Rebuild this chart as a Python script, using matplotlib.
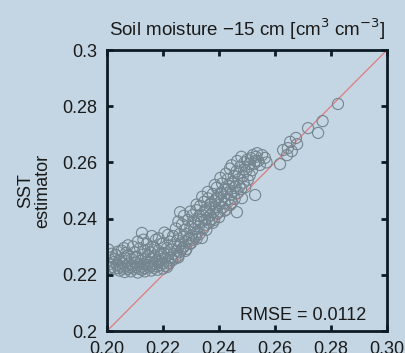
import numpy as np
import matplotlib
matplotlib.use("Agg")
import matplotlib.pyplot as plt

plt.rcParams["font.family"] = ["Liberation Sans", "DejaVu Sans"]

sm_obs = [
    0.2005, 0.2008, 0.2012, 0.2015, 0.2020, 0.2024, 0.2028, 0.2032, 0.2036, 0.2040,
    0.2044, 0.2048, 0.2052, 0.2055, 0.2058, 0.2062, 0.2066, 0.2070, 0.2073, 0.2077,
    0.2080, 0.2084, 0.2088, 0.2091, 0.2095, 0.2098, 0.2102, 0.2105, 0.2108, 0.2112,
    0.2115, 0.2118, 0.2121, 0.2124, 0.2128, 0.2131, 0.2134, 0.2138, 0.2142, 0.2145,
    0.2148, 0.2150, 0.2125,
    0.2018, 0.2038, 0.2060, 0.2075, 0.2093, 0.2110, 0.2130, 0.2147, 0.2160, 0.2185,
    0.2200, 0.2218, 0.2028, 0.2068, 0.2100, 0.2135, 0.2170, 0.2192,
    0.2063, 0.2085, 0.2110, 0.2135, 0.2158, 0.2180, 0.2200, 0.2215, 0.2045, 0.2125,
    0.2152, 0.2155, 0.2158, 0.2161, 0.2164, 0.2167, 0.2170, 0.2172, 0.2175, 0.2178,
    0.2180, 0.2183, 0.2186, 0.2189, 0.2191, 0.2194, 0.2197, 0.2200, 0.2203, 0.2205,
    0.2208, 0.2211, 0.2214, 0.2216, 0.2219, 0.2222, 0.2225, 0.2228, 0.2230, 0.2233,
    0.2236, 0.2238, 0.2241, 0.2244, 0.2246, 0.2249, 0.2252, 0.2254, 0.2257, 0.2260,
    0.2262, 0.2265, 0.2268, 0.2270, 0.2273, 0.2276, 0.2278, 0.2281, 0.2284, 0.2286,
    0.2289, 0.2292, 0.2295, 0.2298, 0.2261,
    0.2255, 0.2280, 0.2300, 0.2320, 0.2355, 0.2378, 0.2400, 0.2420, 0.2440,
    0.2255, 0.2275, 0.2298, 0.2320, 0.2340, 0.2360, 0.2385, 0.2405, 0.2425, 0.2445,
    0.2465, 0.2480,
    0.2310, 0.2330, 0.2350, 0.2370, 0.2390, 0.2410, 0.2430, 0.2450, 0.2470, 0.2490,
    0.2510, 0.2530,
    0.2302, 0.2305, 0.2308, 0.2311, 0.2314, 0.2316, 0.2319, 0.2322, 0.2325, 0.2328,
    0.2330, 0.2333, 0.2336, 0.2339, 0.2342, 0.2344, 0.2347, 0.2350, 0.2353, 0.2356,
    0.2358, 0.2361, 0.2364, 0.2367, 0.2370, 0.2372, 0.2375, 0.2378, 0.2380, 0.2383,
    0.2386, 0.2389, 0.2392, 0.2394, 0.2397, 0.2400, 0.2403, 0.2406, 0.2408, 0.2411,
    0.2414, 0.2417, 0.2420, 0.2422, 0.2425, 0.2428, 0.2431, 0.2433, 0.2436, 0.2439,
    0.2442, 0.2445, 0.2448,
    0.2450, 0.2453, 0.2456, 0.2459, 0.2462, 0.2464, 0.2467, 0.2470, 0.2473, 0.2476,
    0.2479, 0.2482, 0.2485, 0.2488, 0.2491, 0.2494, 0.2497, 0.2500, 0.2503, 0.2506,
    0.2510, 0.2514, 0.2518, 0.2521, 0.2525, 0.2529, 0.2532, 0.2536, 0.2540, 0.2546,
    0.2554, 0.2564, 0.2570,
    0.2618, 0.2629, 0.2643, 0.2646, 0.2654, 0.2660, 0.2675, 0.2679, 0.2718, 0.2754,
    0.2770, 0.2825,
]
sst_est = [
    0.2290, 0.2238, 0.2225, 0.2262, 0.2228, 0.2245, 0.2222, 0.2270, 0.2236, 0.2224,
    0.2252, 0.2230, 0.2286, 0.2241, 0.2222, 0.2262, 0.2232, 0.2248, 0.2221, 0.2270,
    0.2238, 0.2226, 0.2256, 0.2233, 0.2222, 0.2280, 0.2244, 0.2228, 0.2263, 0.2236,
    0.2221, 0.2295, 0.2250, 0.2230, 0.2272, 0.2240, 0.2224, 0.2258, 0.2310, 0.2235,
    0.2266, 0.2226, 0.2349,
    0.2275, 0.2282, 0.2295, 0.2305, 0.2300, 0.2318, 0.2325, 0.2290, 0.2338, 0.2330,
    0.2312, 0.2342, 0.2255, 0.2278, 0.2262, 0.2285, 0.2295, 0.2275,
    0.2210, 0.2212, 0.2208, 0.2212, 0.2215, 0.2218, 0.2222, 0.2228, 0.2215, 0.2218,
    0.2245, 0.2280, 0.2232, 0.2258, 0.2300, 0.2225, 0.2268, 0.2240, 0.2325, 0.2252,
    0.2230, 0.2285, 0.2246, 0.2265, 0.2235, 0.2310, 0.2256, 0.2240, 0.2278, 0.2350,
    0.2262, 0.2232, 0.2295, 0.2250, 0.2272, 0.2240, 0.2318, 0.2260, 0.2290, 0.2252,
    0.2338, 0.2275, 0.2305, 0.2258, 0.2365, 0.2285, 0.2322, 0.2268, 0.2300, 0.2345,
    0.2282, 0.2312, 0.2380, 0.2295, 0.2335, 0.2302, 0.2360, 0.2318, 0.2292, 0.2345,
    0.2395, 0.2328, 0.2310, 0.2370, 0.2423,
    0.2262, 0.2285, 0.2312, 0.2328, 0.2360, 0.2385, 0.2405, 0.2428, 0.2448,
    0.2390, 0.2410, 0.2425, 0.2450, 0.2478, 0.2495, 0.2520, 0.2545, 0.2560, 0.2590,
    0.2605, 0.2620,
    0.2390, 0.2410, 0.2430, 0.2450, 0.2470, 0.2490, 0.2505, 0.2525, 0.2560, 0.2575,
    0.2595, 0.2605,
    0.2340, 0.2412, 0.2325, 0.2362, 0.2385, 0.2335, 0.2430, 0.2352, 0.2398, 0.2372,
    0.2345, 0.2445, 0.2388, 0.2331, 0.2412, 0.2365, 0.2460, 0.2395, 0.2378, 0.2428,
    0.2402, 0.2472, 0.2385, 0.2440, 0.2412, 0.2455, 0.2398, 0.2488, 0.2425, 0.2395,
    0.2462, 0.2440, 0.2510, 0.2418, 0.2475, 0.2448, 0.2425, 0.2492, 0.2462, 0.2525,
    0.2440, 0.2478, 0.2455, 0.2505, 0.2432, 0.2490, 0.2540, 0.2468, 0.2515, 0.2578,
    0.2485, 0.2455, 0.2530,
    0.2498, 0.2552, 0.2470, 0.2515, 0.2568, 0.2423, 0.2492, 0.2540, 0.2515, 0.2585,
    0.2505, 0.2473, 0.2552, 0.2528, 0.2600, 0.2512, 0.2570, 0.2609, 0.2538, 0.2585,
    0.2555, 0.2615, 0.2572, 0.2626, 0.2595, 0.2484, 0.2620, 0.2633, 0.2605, 0.2591,
    0.2626, 0.2616, 0.2600,
    0.2594, 0.2644, 0.2626, 0.2651, 0.2673, 0.2640, 0.2687, 0.2665, 0.2722, 0.2705,
    0.2747, 0.2808,
]

xticks = [0.20, 0.22, 0.24, 0.26, 0.28, 0.30]
xticklabels = ["0.20", "0.22", "0.24", "0.26", "0.28", "0.30"]
yticks = [0.20, 0.22, 0.24, 0.26, 0.28, 0.30]
yticklabels = ["0.2", "0.22", "0.24", "0.26", "0.28", "0.3"]
rmse_text = "RMSE = 0.0112"

bg = "#c4d6e3"
txt = "#1a1a1a"
fig = plt.figure(figsize=(4.06, 3.53), dpi=100, facecolor=bg)
ax = fig.add_axes([0.2635, 0.0623, 0.6897, 0.796], facecolor=bg)

ax.plot([0.2, 0.3], [0.2, 0.3], color="#e07a7e", lw=0.9, zorder=1)
ax.scatter(sm_obs, sst_est, s=64, facecolors="none", edgecolors="#74858f",
           linewidths=0.8, zorder=2)

ax.set_xlim(0.2, 0.3)
ax.set_ylim(0.2, 0.3)
ax.set_xticks(xticks)
ax.set_xticklabels(xticklabels)
ax.set_yticks(yticks)
ax.set_yticklabels(yticklabels)
ax.tick_params(direction="in", length=4, width=2, color="#0d1b26",
               labelsize=13, labelcolor=txt, top=True, right=True, pad=7)
for sp in ax.spines.values():
    sp.set_linewidth(2)
    sp.set_color("#0d1b26")

ax.set_title("Soil moisture \u221215 cm [cm$^3$ cm$^{-3}$]", fontsize=13.5,
             color=txt, pad=10)
ax.set_ylabel("SST\nestimator", fontsize=13, color=txt, labelpad=8,
              linespacing=1.0)
ax.text(0.925, 0.025, rmse_text, transform=ax.transAxes, ha="right", va="bottom",
        fontsize=13, color=txt)

fig.savefig("out.png", dpi=100, facecolor=bg)
